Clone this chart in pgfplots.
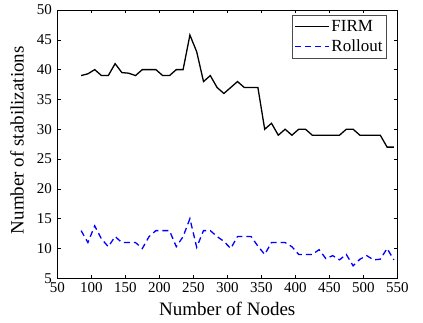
\documentclass[border=0pt]{standalone}
\usepackage{pgfplots}
\pgfplotsset{compat=1.18}
\usepackage{fontspec}
\setmainfont{Liberation Serif}
\begin{document}
\begin{tikzpicture}
\begin{axis}[
  scale only axis,
  width=340pt, height=268.3pt,
  xmin=50, xmax=550, ymin=5, ymax=50,
  xtick={50,100,...,550}, ytick={5,10,...,50},
  tick align=inside,
  major tick length=3.4pt,
  axis line style={black, line width=0.6pt},
  every tick/.style={black, line width=0.6pt},
  /pgf/number format/assume math mode=true,
  tick label style={font=\fontsize{15}{17}\selectfont},
  xticklabel style={yshift=-1pt},
  yticklabel style={xshift=-2pt},
  label style={font=\fontsize{19}{21}\selectfont},
  xlabel={Number of Nodes},
  ylabel={Number of stabilizations},
  xlabel style={at={(axis description cs:0.5,-0.1126)}, anchor=center},
  ylabel style={at={(axis description cs:-0.1185,0.515)}, anchor=center, rotate=0},
  legend style={at={(0.9688,0.981)}, anchor=north east, draw=black!70,
    font=\fontsize{17}{19}\selectfont, inner xsep=2pt, inner ysep=3pt, row sep=3pt,
    legend cell align=left},
  legend image code/.code={\draw[#1] (0pt,0pt) -- (34pt,0pt);},
]
\addplot[black, line width=1.3pt] coordinates {
(85,39) (95,39.3) (105,40) (115,39) (125,39) (135,41) (145,39.5) (155,39.4)
(165,39) (175,40) (185,40) (195,40) (205,39) (215,39) (225,40) (235,40)
(245,45.8) (255,43) (265,38) (275,39) (285,37) (295,36) (305,37) (315,38)
(325,37) (335,37) (345,37) (355,30) (365,31) (375,29) (385,30) (395,29)
(405,30) (415,30) (425,29) (435,29) (445,29) (455,29) (465,29) (475,30)
(485,30) (495,29) (505,29) (515,29) (525,29) (535,27) (545,27)
};
\addlegendentry{FIRM}
\addplot[blue, line width=1.3pt, dash pattern=on 6pt off 4pt] coordinates {
(85,13) (95,11) (105,13.8) (115,11.6) (125,10.3) (135,12) (145,11) (155,11)
(165,11) (175,10) (185,12) (195,13) (205,13) (215,13) (225,10.3) (235,12)
(245,15) (255,10.2) (265,13) (275,13) (285,12) (295,11.2) (305,10) (315,12)
(325,12) (335,12) (345,10.4) (355,9) (365,11) (375,11) (385,11) (395,10.3)
(405,9) (415,9) (425,9) (435,9.8) (445,8.3) (455,8.8) (465,8.1) (475,9)
(485,7.1) (495,8.2) (505,8.8) (515,8.1) (525,8.2) (535,10) (545,8.1)
};
\addlegendentry{Rollout}
\end{axis}
\path (current axis.south west) ++(-57.3pt,-43.7pt) coordinate (bbA);
\path (current axis.north east) ++(25.7pt,10pt) coordinate (bbB);
\path (bbA) rectangle (bbB);
\end{tikzpicture}
\end{document}
